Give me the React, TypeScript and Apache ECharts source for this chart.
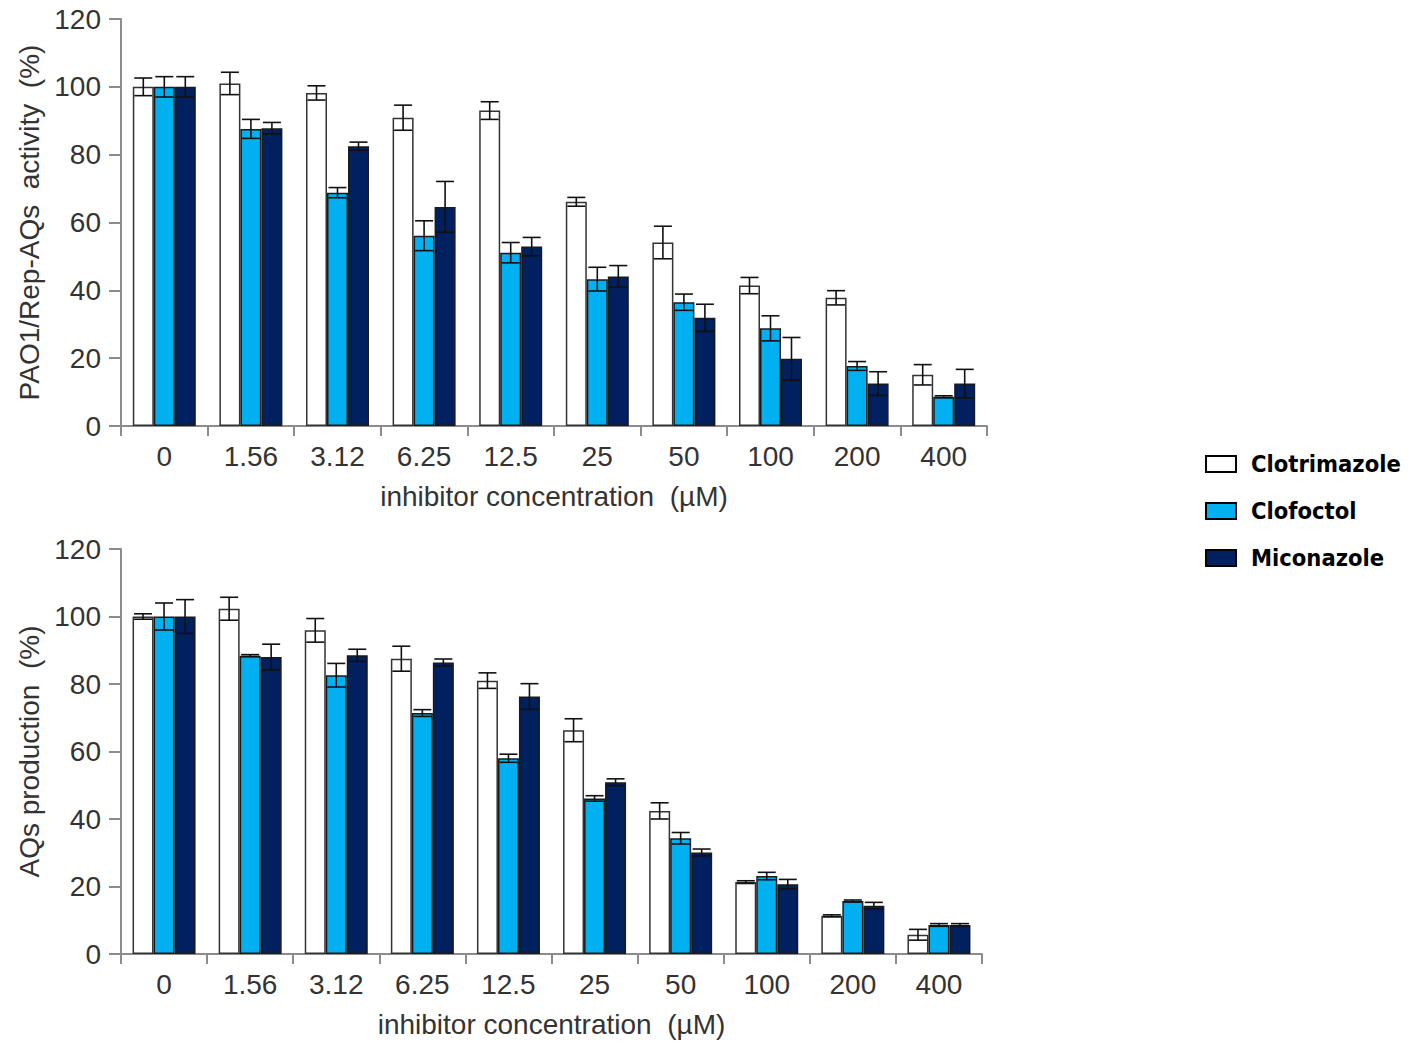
import React, { useEffect, useRef } from "react";
import * as echarts from "echarts";

const categories = ["0", "1.56", "3.12", "6.25", "12.5", "25", "50", "100", "200", "400"];
const seriesNames = ["Clotrimazole", "Clofoctol", "Miconazole"];
const colors = ["#FFFFFF", "#00B0F0", "#002060"];

// Top panel: PAO1/Rep-AQs activity (%)
const topClotrimazole = [100, 101, 98.2, 90.9, 93, 66.1, 54.1, 41.4, 37.8, 15.1];
const topClotrimazoleErr = [2.6, 3.3, 2.1, 3.7, 2.6, 1.3, 4.8, 2.4, 2.1, 3];
const topClofoctol = [100, 87.6, 68.8, 56.1, 51.1, 43.3, 36.5, 28.8, 17.7, 8.6];
const topClofoctolErr = [3, 2.8, 1.5, 4.4, 3, 3.5, 2.4, 3.7, 1.3, 0.3];
const topMiconazole = [100, 87.8, 82.5, 64.6, 52.9, 44.1, 31.9, 19.8, 12.5, 12.5];
const topMiconazoleErr = [3, 1.7, 1.2, 7.5, 2.7, 3.2, 4, 6.3, 3.5, 4.2];

// Bottom panel: AQs production (%)
const botClotrimazole = [100, 102.3, 95.9, 87.5, 81, 66.3, 42.4, 21.3, 11.3, 5.7];
const botClotrimazoleErr = [0.8, 3.4, 3.5, 3.7, 2.3, 3.4, 2.4, 0.4, 0.3, 1.6];
const botClofoctol = [100, 88.4, 82.6, 71.4, 58, 46.1, 34.3, 23.1, 15.7, 8.6];
const botClofoctolErr = [4, 0.3, 3.5, 1, 1.2, 0.8, 1.7, 1.1, 0.3, 0.4];
const botMiconazole = [100, 88, 88.5, 86.4, 76.3, 50.9, 30.1, 20.7, 14.3, 8.6];
const botMiconazoleErr = [5, 3.8, 1.8, 1, 3.8, 1, 1, 1.4, 1, 0.4];

const yTicks = { min: 0, max: 120, interval: 20 };
const NB = "\u00a0";
const topYName = `PAO1/Rep-AQs${NB}${NB}activity${NB}${NB}(%)`;
const botYName = `AQs${NB}production${NB}${NB}(%)`;
const xName = `inhibitor${NB}concentration${NB}${NB}(µM)`;

const BAR_W = 21;
const AXIS_FONT = "Liberation Sans, Arial, sans-serif";
const TEXT_COLOR = "#333";

function barSeries(grid: number, idx: number, vals: number[]) {
  return {
    type: "bar",
    name: seriesNames[idx],
    xAxisIndex: grid,
    yAxisIndex: grid,
    data: vals,
    barWidth: BAR_W,
    barGap: "0%",
    itemStyle: {
      color: colors[idx],
      borderColor: idx === 0 ? "#333" : "#1a1a1a",
      borderWidth: 1.5,
    },
    z: 2,
  };
}

function errSeries(grid: number, idx: number, vals: number[], errs: number[]) {
  const offset = (idx - 1) * BAR_W;
  return {
    type: "custom",
    xAxisIndex: grid,
    yAxisIndex: grid,
    silent: true,
    z: 5,
    data: vals.map((v, i) => [i, v, errs[i]]),
    renderItem: (_p: any, api: any) => {
      const i = api.value(0);
      const v = api.value(1);
      const e = api.value(2);
      const hi = api.coord([i, v + e]);
      const lo = api.coord([i, v - e]);
      const x = hi[0] + offset;
      const hw = 9;
      const st = { stroke: "#111", lineWidth: 1.6 };
      return {
        type: "group",
        children: [
          { type: "line", shape: { x1: x, y1: hi[1], x2: x, y2: lo[1] }, style: st },
          { type: "line", shape: { x1: x - hw, y1: hi[1], x2: x + hw, y2: hi[1] }, style: st },
          { type: "line", shape: { x1: x - hw, y1: lo[1], x2: x + hw, y2: lo[1] }, style: st },
        ],
      };
    },
  };
}

function xAxis(grid: number) {
  return {
    type: "category",
    gridIndex: grid,
    data: categories,
    boundaryGap: true,
    axisLine: { lineStyle: { color: "#8c8c8c", width: 2 } },
    axisTick: { show: true, length: 10, lineStyle: { color: "#8c8c8c", width: 2 } },
    axisLabel: { fontSize: 28, color: TEXT_COLOR, fontFamily: AXIS_FONT, margin: 16 },
    name: xName,
    nameLocation: "middle",
    nameGap: 56,
    nameTextStyle: { fontSize: 28, color: TEXT_COLOR, fontFamily: AXIS_FONT },
  };
}

function yAxis(grid: number, name: string) {
  return {
    type: "value",
    gridIndex: grid,
    ...yTicks,
    splitLine: { show: false },
    axisLine: { show: true, lineStyle: { color: "#8c8c8c", width: 2 } },
    axisTick: { show: true, length: 12, lineStyle: { color: "#8c8c8c", width: 2 } },
    axisLabel: { fontSize: 28, color: TEXT_COLOR, fontFamily: AXIS_FONT, margin: 20 },
    name,
    nameLocation: "middle",
    nameGap: 74,
    nameTextStyle: { fontSize: 28, color: TEXT_COLOR, fontFamily: AXIS_FONT },
  };
}

export default function App() {
  const ref = useRef<HTMLDivElement>(null);
  useEffect(() => {
    if (!ref.current) return;
    const chart = echarts.init(ref.current, null, { renderer: "svg" });
    chart.setOption({
      animation: false,
      backgroundColor: "#fff",
      grid: [
        { left: 121, top: 19, width: 866, height: 407 },
        { left: 121, top: 549, width: 861, height: 405 },
      ],
      xAxis: [xAxis(0), xAxis(1)],
      yAxis: [yAxis(0, topYName), yAxis(1, botYName)],
      legend: {
        orient: "vertical",
        left: 1200,
        top: 447,
        itemWidth: 30,
        itemHeight: 16,
        itemGap: 23,
        icon: "rect",
        textStyle: {
          fontSize: 23.5,
          fontWeight: "bold",
          color: "#000",
          fontFamily: "DejaVu Sans Condensed, DejaVu Sans, Verdana, sans-serif",
          padding: [0, 0, 0, 10],
        },
        data: seriesNames.map((n, i) => ({
          name: n,
          itemStyle: { color: colors[i], borderColor: "#000", borderWidth: 2 },
        })),
      },
      series: [
        barSeries(0, 0, topClotrimazole),
        barSeries(0, 1, topClofoctol),
        barSeries(0, 2, topMiconazole),
        barSeries(1, 0, botClotrimazole),
        barSeries(1, 1, botClofoctol),
        barSeries(1, 2, botMiconazole),
        errSeries(0, 0, topClotrimazole, topClotrimazoleErr),
        errSeries(0, 1, topClofoctol, topClofoctolErr),
        errSeries(0, 2, topMiconazole, topMiconazoleErr),
        errSeries(1, 0, botClotrimazole, botClotrimazoleErr),
        errSeries(1, 1, botClofoctol, botClofoctolErr),
        errSeries(1, 2, botMiconazole, botMiconazoleErr),
      ],
    });
    return () => chart.dispose();
  }, []);
  return (
    <div
      ref={ref}
      style={{ position: "absolute", left: 0, top: 0, width: 1410, height: 1047 }}
    />
  );
}
